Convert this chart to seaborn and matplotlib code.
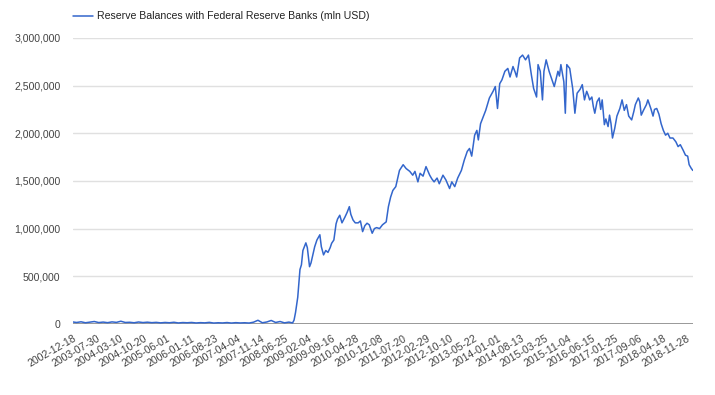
import pandas as pd
import seaborn as sns
import matplotlib.pyplot as plt
import matplotlib.ticker as mticker

sns.set_theme(style="white")
plt.rcParams['font.family'] = ['Liberation Sans', 'DejaVu Sans']

# Weekly reserve balances (mln USD)
dates = [
    "2002-12-18", "2003-01-22", "2003-03-05", "2003-04-16", "2003-05-28", "2003-07-09",
    "2003-08-20", "2003-10-01", "2003-11-12", "2003-12-24", "2004-02-04", "2004-03-17",
    "2004-04-28", "2004-06-09", "2004-07-21", "2004-09-01", "2004-10-13", "2004-11-24",
    "2005-01-05", "2005-02-16", "2005-03-30", "2005-05-11", "2005-06-22", "2005-08-03",
    "2005-09-14", "2005-10-26", "2005-12-07", "2006-01-18", "2006-03-01", "2006-04-12",
    "2006-05-24", "2006-07-05", "2006-08-16", "2006-09-27", "2006-11-08", "2006-12-20",
    "2007-01-31", "2007-03-14", "2007-04-25", "2007-06-06", "2007-07-18", "2007-08-29",
    "2007-10-10", "2007-11-21", "2008-01-02", "2008-02-13", "2008-03-26", "2008-05-07",
    "2008-06-18", "2008-07-30", "2008-09-03", "2008-09-17", "2008-10-01", "2008-10-22",
    "2008-11-12", "2008-11-26", "2008-12-10", "2009-01-07", "2009-01-21", "2009-02-11",
    "2009-02-25", "2009-03-18", "2009-04-01", "2009-04-22", "2009-05-20", "2009-06-03",
    "2009-06-24", "2009-07-15", "2009-08-05", "2009-08-26", "2009-09-09", "2009-09-30",
    "2009-10-21", "2009-11-04", "2009-11-25", "2009-12-16", "2010-01-13", "2010-02-03",
    "2010-02-24", "2010-03-10", "2010-03-31", "2010-04-21", "2010-05-19", "2010-06-09",
    "2010-06-30", "2010-07-21", "2010-08-11", "2010-09-01", "2010-09-29", "2010-10-20",
    "2010-11-10", "2010-12-08", "2011-01-05", "2011-02-09", "2011-03-02", "2011-03-23",
    "2011-04-13", "2011-05-11", "2011-06-15", "2011-07-20", "2011-08-17", "2011-09-21",
    "2011-10-19", "2011-11-09", "2011-12-07", "2011-12-28", "2012-01-25", "2012-02-22",
    "2012-03-28", "2012-04-18", "2012-05-09", "2012-06-06", "2012-06-27", "2012-08-01",
    "2012-08-29", "2012-10-03", "2012-10-24", "2012-11-21", "2012-12-19", "2013-01-23",
    "2013-02-20", "2013-03-20", "2013-04-10", "2013-05-01", "2013-05-29", "2013-06-19",
    "2013-07-03", "2013-07-24", "2013-08-21", "2013-09-11", "2013-10-16", "2013-11-20",
    "2013-12-11", "2014-01-01", "2014-01-22", "2014-02-12", "2014-03-12", "2014-04-09",
    "2014-04-30", "2014-05-28", "2014-06-18", "2014-07-02", "2014-07-30", "2014-08-27",
    "2014-09-24", "2014-10-22", "2014-11-19", "2014-12-10", "2015-01-07", "2015-01-21",
    "2015-02-11", "2015-03-04", "2015-03-18", "2015-04-08", "2015-05-06", "2015-05-27",
    "2015-06-24", "2015-07-29", "2015-08-12", "2015-08-26", "2015-09-23", "2015-10-07",
    "2015-10-21", "2015-11-18", "2015-12-16", "2016-01-06", "2016-01-27", "2016-02-24",
    "2016-03-16", "2016-04-06", "2016-04-27", "2016-05-11", "2016-05-25", "2016-06-15",
    "2016-06-29", "2016-07-13", "2016-08-03", "2016-08-24", "2016-09-07", "2016-09-21",
    "2016-10-12", "2016-10-26", "2016-11-16", "2016-11-30", "2016-12-14", "2016-12-28",
    "2017-01-18", "2017-02-08", "2017-03-08", "2017-03-29", "2017-04-19", "2017-05-10",
    "2017-05-31", "2017-06-28", "2017-07-19", "2017-08-02", "2017-08-30", "2017-09-13",
    "2017-09-27", "2017-10-18", "2017-11-15", "2017-11-29", "2017-12-27", "2018-01-17",
    "2018-01-31", "2018-02-21", "2018-03-14", "2018-04-04", "2018-04-25", "2018-05-16",
    "2018-06-06", "2018-06-27", "2018-07-25", "2018-08-22", "2018-09-12", "2018-10-03",
    "2018-10-31", "2018-11-21", "2018-12-12", "2018-12-26", "2019-01-16", "2019-01-30",
]

reserves = [
    20000, 15000, 22000, 12000, 18000, 25000,
    14000, 19000, 13000, 21000, 16000, 28000,
    15000, 17000, 12000, 20000, 14000, 18000,
    13000, 16000, 11000, 15000, 12000, 17000,
    10000, 14000, 12000, 15000, 10000, 13000,
    11000, 16000, 9000, 12000, 10000, 14000,
    9000, 13000, 10000, 12000, 9000, 18000,
    38000, 12000, 20000, 36000, 15000, 25000,
    11000, 19000, 10000, 40000, 120000, 280000,
    570000, 620000, 770000, 850000, 800000, 600000,
    640000, 740000, 810000, 880000, 935000, 810000,
    724000, 770000, 750000, 800000, 846000, 880000,
    1050000, 1100000, 1140000, 1060000, 1120000, 1170000,
    1230000, 1150000, 1090000, 1060000, 1060000, 1080000,
    968000, 1030000, 1056000, 1040000, 951000, 1000000,
    1010000, 1000000, 1040000, 1070000, 1230000, 1330000,
    1400000, 1440000, 1610000, 1670000, 1630000, 1600000,
    1560000, 1600000, 1490000, 1580000, 1550000, 1650000,
    1560000, 1520000, 1490000, 1530000, 1470000, 1560000,
    1510000, 1420000, 1490000, 1440000, 1530000, 1610000,
    1720000, 1810000, 1840000, 1760000, 1980000, 2030000,
    1930000, 2100000, 2180000, 2240000, 2370000, 2440000,
    2490000, 2260000, 2520000, 2560000, 2650000, 2680000,
    2590000, 2700000, 2640000, 2590000, 2790000, 2820000,
    2770000, 2820000, 2610000, 2470000, 2380000, 2720000,
    2650000, 2350000, 2650000, 2770000, 2650000, 2580000,
    2490000, 2650000, 2600000, 2720000, 2540000, 2210000,
    2720000, 2680000, 2470000, 2210000, 2420000, 2460000,
    2510000, 2350000, 2440000, 2400000, 2350000, 2380000,
    2280000, 2210000, 2330000, 2370000, 2250000, 2350000,
    2090000, 2150000, 2070000, 2190000, 2100000, 1950000,
    2050000, 2180000, 2260000, 2350000, 2240000, 2300000,
    2180000, 2140000, 2230000, 2300000, 2370000, 2330000,
    2190000, 2240000, 2300000, 2350000, 2260000, 2180000,
    2250000, 2260000, 2200000, 2100000, 2030000, 1980000,
    2000000, 1950000, 1950000, 1910000, 1860000, 1880000,
    1820000, 1770000, 1760000, 1670000, 1630000, 1610000,
]

tick_labels = [
    "2002-12-18", "2003-07-30", "2004-03-10", "2004-10-20", "2005-06-01", "2006-01-11",
    "2006-08-23", "2007-04-04", "2007-11-14", "2008-06-25", "2009-02-04", "2009-09-16",
    "2010-04-28", "2010-12-08", "2011-07-20", "2012-02-29", "2012-10-10", "2013-05-22",
    "2014-01-01", "2014-08-13", "2015-03-25", "2015-11-04", "2016-06-15", "2017-01-25",
    "2017-09-06", "2018-04-18", "2018-11-28",
]

series_name = "Reserve Balances with Federal Reserve Banks (mln USD)"
df = pd.DataFrame({"Date": pd.to_datetime(dates), series_name: reserves})

fig = plt.figure(figsize=(7.15, 3.95), dpi=100)
ax = fig.add_axes([0.102, 0.18, 0.867, 0.724])

sns.lineplot(data=df, x="Date", y=series_name, ax=ax, color="#3366cc",
             linewidth=1.1, label=series_name)

ax.set_ylim(0, 3000000)
ax.set_xlim(pd.Timestamp("2002-12-18"), pd.Timestamp("2019-01-30"))
ax.yaxis.set_major_locator(mticker.MultipleLocator(500000))
ax.yaxis.set_major_formatter(mticker.FuncFormatter(lambda v, p: f"{int(v):,}"))
ax.grid(axis="y", color="#e0e0e0", linewidth=1)
ax.axhline(0, color="#999999", linewidth=1.4, zorder=1)
for s in ax.spines.values():
    s.set_visible(False)

ax.set_xticks(pd.to_datetime(tick_labels))
ax.set_xticklabels(tick_labels, rotation=30, ha="right", rotation_mode="anchor")
ax.tick_params(axis="x", length=0, pad=7, labelsize=7.6, labelcolor="#444444")
ax.tick_params(axis="y", length=0, pad=9, labelsize=7.6, labelcolor="#444444")
ax.set_xlabel("")
ax.set_ylabel("")

ax.legend(loc="center left", bbox_to_anchor=(0.0, 1.075), frameon=False,
          borderaxespad=0, borderpad=0, fontsize=7.6, handlelength=1.9,
          handletextpad=0.4, labelcolor="#222222")

plt.savefig("out.png", dpi=100)
